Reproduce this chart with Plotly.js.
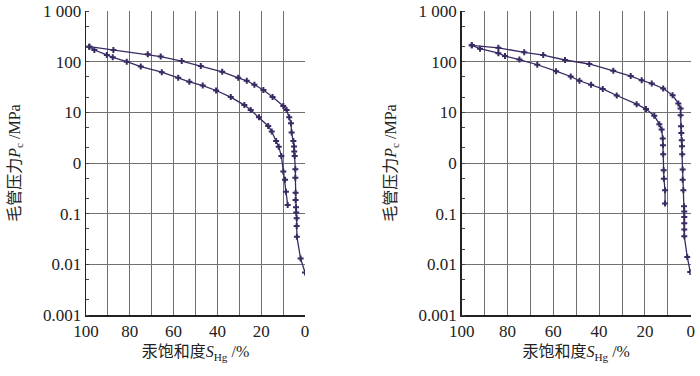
<!DOCTYPE html>
<html><head><meta charset="utf-8">
<script src="https://cdn.plot.ly/plotly-3.0.1.min.js"></script>
<style>html,body{margin:0;padding:0;background:#fff}#chart{width:700px;height:376px}</style>
</head><body><div id="chart"></div>
<script>
// Left panel: injection (upper) and withdrawal (lower) curves
const leftInjX = [98.5, 87.5, 71.8, 65.9, 56.3, 47.6, 37.8, 30.5, 26.6, 23.1, 19.0, 14.8, 9.9, 8.4, 7.2, 6.4, 6.1, 5.3, 5.0, 4.9, 4.7, 4.4, 4.4, 4.3, 4.3, 4.1, 4.0, 3.8, 3.8, 3.7, 2.0, 0];
const leftInjY = [198, 170, 140, 126, 103, 82, 63, 48, 42, 35, 27.7, 20, 13.4, 11.1, 8.0, 6.1, 4.0, 2.73, 2.11, 1.68, 1.38, 0.755, 0.51, 0.26, 0.186, 0.134, 0.105, 0.081, 0.057, 0.035, 0.013, 0.0069];
const leftWdrX = [98.5, 96.2, 90.5, 87.8, 81.4, 75.0, 65.4, 57.9, 52.8, 46.7, 40.6, 33.9, 27.7, 24.8, 21.0, 16.8, 15.2, 13.2, 12.0, 10.8, 9.9, 9.1, 8.7, 7.9];
const leftWdrY = [198, 170, 136, 122, 100, 80, 62, 48, 40, 33.7, 27, 20, 13.9, 11.1, 8.0, 5.4, 4.2, 2.73, 2.1, 1.38, 0.68, 0.47, 0.27, 0.149];
// Right panel
const rightInjX = [95.6, 84.0, 72.7, 64.4, 54.9, 44.3, 33.8, 26.2, 21.4, 17.0, 12.0, 7.9, 5.4, 4.4, 4.4, 4.2, 4.1, 3.9, 3.8, 3.7, 3.5, 3.5, 3.2, 2.9, 2.8, 2.8, 2.8, 2.8, 2.8, 1.5, 0.2];
const rightInjY = [210, 188, 153, 135, 108, 90, 66, 52, 43, 37, 29.6, 21.8, 15, 11.9, 8.8, 5.3, 3.9, 2.8, 2.15, 1.49, 0.745, 0.47, 0.29, 0.14, 0.111, 0.086, 0.065, 0.049, 0.036, 0.014, 0.0071];
const rightWdrX = [95.6, 92.0, 84.0, 81.1, 74.8, 67.0, 58.8, 52.4, 48.6, 43.5, 38.4, 32.3, 23.6, 19.5, 15.9, 13.7, 12.7, 12.2, 12.1, 12.0, 11.8, 11.7, 11.2, 11.2];
const rightWdrY = [210, 180, 147, 129, 110, 87, 65, 51, 42, 35, 29, 21.5, 14.5, 11.6, 8.6, 5.85, 4.6, 3.05, 2.25, 1.49, 0.72, 0.49, 0.29, 0.158];

const yTickVals = [0.001, 0.01, 0.1, 1, 10, 100, 1000];
const yTickText = ['0.001', '0.01', '0.1', '0', '10', '100', '1 000'];
const xTickVals = [0, 20, 40, 60, 80, 100];
const xTickText = ['0', '20', '40', '60', '80', '100'];
const xTitle = '汞饱和度<i>S</i><sub>Hg</sub> /%';
const yTitle = '毛管压力<i>P</i><sub>c</sub> /MPa';

const lineColor = '#3a2a63';
function tr(x, y, xa, ya) {
  return {x: x, y: y, xaxis: xa, yaxis: ya, type: 'scatter', mode: 'lines+markers',
    line: {color: lineColor, width: 1.3},
    marker: {symbol: 'cross', size: 5, color: lineColor},
    showlegend: false, hoverinfo: 'x+y'};
}
const data = [
  tr(leftInjX, leftInjY, 'x', 'y'), tr(leftWdrX, leftWdrY, 'x', 'y'),
  tr(rightInjX, rightInjY, 'x2', 'y2'), tr(rightWdrX, rightWdrY, 'x2', 'y2')
];
const fam = 'Liberation Serif, Times New Roman, Noto Sans CJK SC, serif';
const font = {family: fam, size: 17, color: '#222'};
function xAx(dom, anchor) {
  return {domain: dom, anchor: anchor, range: [100, 0], tickvals: xTickVals, ticktext: xTickText,
    showgrid: true, gridcolor: '#707070', gridwidth: 1,
    minor: {dtick: 10, tick0: 0, showgrid: true, gridcolor: '#707070', gridwidth: 1},
    showline: true, linecolor: '#222', linewidth: 1.5, ticks: '', zeroline: false,
    tickfont: {family: fam, size: 17, color: '#222'},
    title: {text: xTitle, font: {family: fam, size: 16, color: '#222'}, standoff: 6}};
}
function yAx(dom, anchor) {
  return {domain: dom, anchor: anchor, type: 'log', range: [-3, 3], tickvals: yTickVals, ticktext: yTickText,
    showgrid: true, gridcolor: '#707070', gridwidth: 1,
    minor: {ticks: 'inside', ticklen: 3, tickcolor: '#444', showgrid: false},
    showline: true, linecolor: '#222', linewidth: 1.5, ticks: '', zeroline: false,
    tickfont: {family: fam, size: 17, color: '#222'},
    title: {text: yTitle, font: {family: fam, size: 16, color: '#222'}, standoff: 18}};
}
const yDom = [0.1622, 0.9707];
const layout = {
  width: 700, height: 376, margin: {l: 0, r: 0, t: 0, b: 0},
  paper_bgcolor: '#fff', plot_bgcolor: '#fff', font: font,
  xaxis: xAx([0.1229, 0.4357], 'y'), yaxis: yAx(yDom, 'x'),
  xaxis2: xAx([0.6596, 0.9867], 'y2'), yaxis2: yAx(yDom, 'x2')
};
Plotly.newPlot('chart', data, layout, {staticPlot: true});
</script></body></html>
